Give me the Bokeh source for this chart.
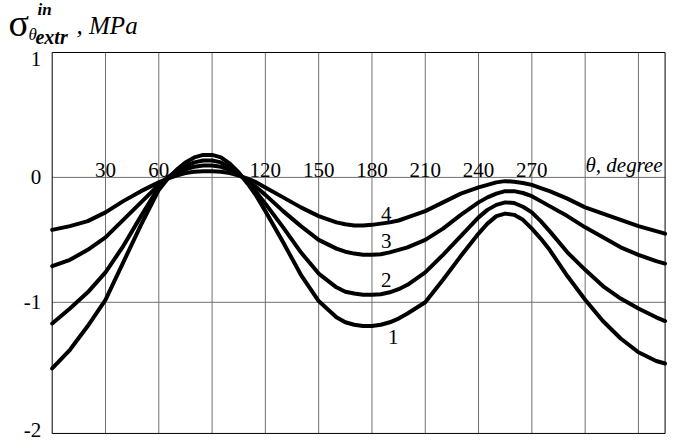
from bokeh.plotting import figure
from bokeh.models import Range1d
from bokeh.core.properties import value
from bokeh.embed import file_html
from bokeh.resources import INLINE

# ---- data ----
theta = [0, 10, 20, 30, 40, 50, 60,
         65, 70, 75, 80, 85, 90, 95, 100, 105, 110, 115, 120,
         130, 140, 150, 160,
         165, 170, 175, 180, 185, 190, 195, 200,
         210, 220, 230, 240,
         245, 250, 255, 260, 265, 270, 275, 280,
         290, 300, 310, 320, 330, 340, 345]
curve1 = [-1.53, -1.38, -1.19, -0.98, -0.68, -0.38, -0.10,
          -0.01, 0.06, 0.12, 0.16, 0.18, 0.18, 0.16, 0.11, 0.04, -0.05, -0.15, -0.27,
          -0.52, -0.78, -0.99, -1.12,
          -1.16, -1.18, -1.19, -1.19, -1.18, -1.16, -1.13, -1.09,
          -1.00, -0.82, -0.63, -0.45,
          -0.37, -0.31, -0.29, -0.30, -0.34, -0.41, -0.49, -0.58,
          -0.79, -0.98, -1.15, -1.29, -1.40, -1.47, -1.49]
curve2 = [-1.17, -1.05, -0.92, -0.76, -0.55, -0.31, -0.08,
          0.00, 0.05, 0.09, 0.12, 0.135, 0.135, 0.12, 0.08, 0.03, -0.04, -0.12, -0.21,
          -0.40, -0.60, -0.77, -0.88,
          -0.915, -0.93, -0.94, -0.94, -0.935, -0.92, -0.895, -0.86,
          -0.76, -0.62, -0.47, -0.32,
          -0.26, -0.22, -0.20, -0.205, -0.235, -0.28, -0.35, -0.43,
          -0.60, -0.74, -0.87, -0.97, -1.05, -1.12, -1.15]
curve3 = [-0.71, -0.66, -0.58, -0.48, -0.34, -0.20, -0.06,
          -0.005, 0.035, 0.065, 0.085, 0.095, 0.095, 0.085, 0.06, 0.025, -0.025, -0.08, -0.14,
          -0.27, -0.39, -0.50, -0.57,
          -0.595, -0.61, -0.62, -0.62, -0.615, -0.60, -0.58, -0.56,
          -0.50, -0.41, -0.30, -0.20,
          -0.16, -0.13, -0.11, -0.11, -0.125, -0.15, -0.19, -0.23,
          -0.31, -0.40, -0.48, -0.56, -0.62, -0.67, -0.69]
curve4 = [-0.42, -0.39, -0.35, -0.28, -0.19, -0.11, -0.04,
          -0.01, 0.015, 0.035, 0.045, 0.05, 0.05, 0.045, 0.035, 0.015, -0.01, -0.04, -0.08,
          -0.16, -0.24, -0.31, -0.36,
          -0.375, -0.385, -0.385, -0.38, -0.37, -0.36, -0.345, -0.32,
          -0.27, -0.20, -0.13, -0.08,
          -0.06, -0.04, -0.03, -0.035, -0.045, -0.06, -0.085, -0.11,
          -0.17, -0.24, -0.29, -0.34, -0.39, -0.43, -0.45]
curves = [curve1, curve2, curve3, curve4]

x_limits = [0, 345]
y_limits = [-2.05, 1.0]
x_tick_values = [30, 60, 120, 150, 180, 210, 240, 270]
x_tick_labels = ["30", "60", "120", "150", "180", "210", "240", "270"]
x_grid_values = [30, 60, 90, 120, 150, 180, 210, 240, 270, 300, 330]
y_mid_tick_values = [0, -1]
y_mid_tick_labels = ["0", "-1"]
y_grid_values = [0, -1]

curve_label_theta = [192, 188, 188, 188]
curve_label_value = [-1.28, -0.82, -0.51, -0.29]
curve_label_text = ["1", "2", "3", "4"]

SERIF = "Liberation Serif"
GRID = "#707070"

# the whole canvas is the frame; the axis box is drawn inside it
p = figure(width=674, height=442, output_backend="svg", toolbar_location=None,
           x_range=Range1d(-29.1, 350.3), y_range=Range1d(-2.1225, 1.4163),
           x_axis_type=None, y_axis_type=None, min_border=0,
           background_fill_color="white", border_fill_color="white")
p.outline_line_color = None

x0, x1 = x_limits
y0, y1 = y_limits

# grid lines
p.segment(x0=x_grid_values, y0=[y0] * len(x_grid_values), x1=x_grid_values,
          y1=[y1] * len(x_grid_values), line_color=GRID, line_width=1)
p.segment(x0=[x0] * len(y_grid_values), y0=y_grid_values, x1=[x1] * len(y_grid_values),
          y1=y_grid_values, line_color=GRID, line_width=1)

# axis box
p.line([x0, x1, x1, x0, x0], [y0, y0, y1, y1, y0], line_color="black", line_width=1)

# curves
for c in curves:
    p.line(theta, c, line_color="black", line_width=4, line_join="round", line_cap="round")

# y tick labels
p.text(x=[x0] * 2, y=y_mid_tick_values, text=y_mid_tick_labels, x_offset=-11,
       text_font=value(SERIF), text_font_size="21px", text_color="black",
       text_align="right", text_baseline="middle")
p.text(x=[x0], y=[y1], text=["1"], x_offset=-11,
       text_font=value(SERIF), text_font_size="21px", text_color="black",
       text_align="right", text_baseline="top")
p.text(x=[x0], y=[y0], text=["-2"], x_offset=-11, y_offset=4,
       text_font=value(SERIF), text_font_size="21px", text_color="black",
       text_align="right", text_baseline="bottom")

# x tick labels above the zero line
p.text(x=x_tick_values, y=[0] * len(x_tick_values), text=x_tick_labels,
       text_font=value(SERIF), text_font_size="21px", text_color="black",
       text_align="center", text_baseline="bottom")
p.text(x=[300.2], y=[0], text=["θ, degree"],
       text_font=value(SERIF), text_font_size="21px", text_font_style="italic",
       text_color="black", text_align="left", text_baseline="bottom")

# curve numbers
p.text(x=curve_label_theta, y=curve_label_value, text=curve_label_text,
       text_font=value(SERIF), text_font_size="21px", text_color="black",
       text_align="center", text_baseline="middle")

# y axis name: sigma with superscript / subscript
def put(x, y, t, size, style="normal"):
    p.text(x=[x], y=[y], text=[t], text_font=value(SERIF), text_font_size=size,
           text_font_style=style, text_color="black", text_align="left",
           text_baseline="bottom")

put(-24.6, 1.070, "σ", "38px")
put(-8.3, 1.267, "in", "17px", "bold italic")
put(-13.3, 1.066, "θ", "17px", "italic")
put(-9.4, 1.040, "extr", "20px", "bold italic")
put(13.7, 1.112, ",  MPa", "25px", "italic")

open("out.html", "w").write(file_html(p, INLINE))
